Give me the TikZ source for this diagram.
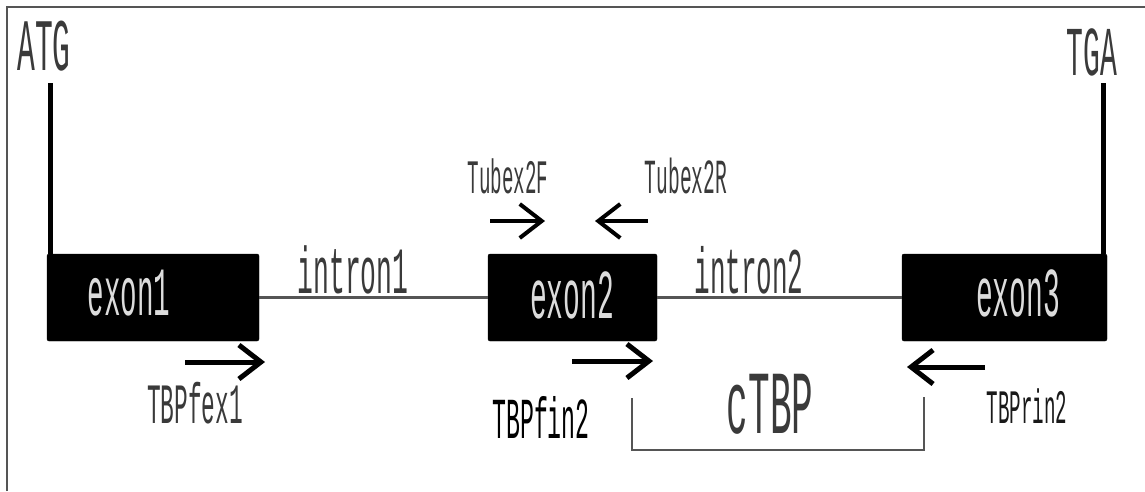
\documentclass[tikz,border=0pt]{standalone}
\usepackage{fontspec}
\usepackage{tikz}
\usetikzlibrary{arrows.meta, positioning}

\newfontfamily\genefont[FakeStretch=0.4]{Liberation Mono}
\newcommand{\gsize}[1]{\fontsize{#1}{#1}\selectfont}

\definecolor{labgray}{HTML}{3A3A3A}
\definecolor{exontxt}{HTML}{DCDCDC}
\definecolor{linegray}{HTML}{555555}

\tikzset{
  exonbox/.style={fill=black, draw=black, rounded corners=2pt, minimum height=87pt, inner sep=0pt},
  genelabel/.style={anchor=base, inner sep=0pt, text=labgray, font=\genefont\gsize{#1}},
  primer/.style={line width=5pt, -{Straight Barb[length=22pt, width=34pt]}},
  intron/.style={line width=2.5pt, linegray},
}

\begin{document}
\begin{tikzpicture}[x=1pt, y=-1pt]
	\useasboundingbox (0,0) rectangle (1145,491);
	\draw[line width=2pt, linegray] (7,491) -- (7,7) -- (1145,7);

	% exons
	\node[exonbox, minimum width=212pt] (ex1) at (153,297.5) {};
	\node[exonbox, minimum width=169pt] (ex2) at (572.5,297.5) {};
	\node[exonbox, minimum width=205pt] (ex3) at (1004.5,297.5) {};

	\node[genelabel=69, text=exontxt] (exlab1) at (129,315) {exon1};
	\node[genelabel=70, text=exontxt] (exlab2) at (572,318) {exon2};
	\node[genelabel=70, text=exontxt] (exlab3) at (1018,316) {exon3};

	% introns
	\begin{scope}[intron]
		\draw (ex1.east) -- (ex2.west);
		\draw (ex2.east) -- (ex3.west);
	\end{scope}
	\node[genelabel=66] (in1) at (353,293) {intron1};
	\node[genelabel=65] (in2) at (749,293) {intron2};

	% start and stop codon
	\node[genelabel=74] (atg) at (44,70) {ATG};
	\node[genelabel=70] (tga) at (1092,75) {TGA};
	\coordinate (atgtop) at (50,83);
	\coordinate (tgatop) at (1103,83);
	\draw[line width=5pt] (atgtop) -- (atgtop |- ex1.north);
	\draw[line width=5pt] (tgatop) -- (tgatop |- ex3.north);

	% primers
	\coordinate (f1s) at (185,362);  \coordinate (f1e) at (265,362);
	\coordinate (tfs) at (490,221);  \coordinate (tfe) at (545,221);
	\coordinate (trs) at (648,221);  \coordinate (tre) at (595,221);
	\coordinate (f2s) at (572,361);  \coordinate (f2e) at (653,361);
	\coordinate (r2s) at (985,367);  \coordinate (r2e) at (907,367);

	\draw[primer] (f1s) -- (f1e);
	\draw[primer] (f2s) -- (f2e);
	\draw[primer] (r2s) -- (r2e);
	\draw[primer, line width=4pt] (tfs) -- (tfe);
	\draw[primer, line width=4pt] (trs) -- (tre);

	\node[genelabel=57] (fex1) at (195,423) {TBPfex1};
	\node[genelabel=48] (tubf) at (508,193) {Tubex2F};
	\node[genelabel=49] (tubr) at (686,193) {Tubex2R};
	\node[genelabel=58, text=black] (fin2) at (541,438) {TBPfin2};
	\node[genelabel=48, text=black!90] (rin2) at (1027,423) {TBPrin2};

	% product
	\coordinate (cl) at (632,398);
	\coordinate (cr) at (924,397);
	\draw[intron] (cl) -- ++(0,52) -| (cr);
	\node[genelabel=90] (ctbp) at (770,433) {cTBP};
\end{tikzpicture}
\end{document}
